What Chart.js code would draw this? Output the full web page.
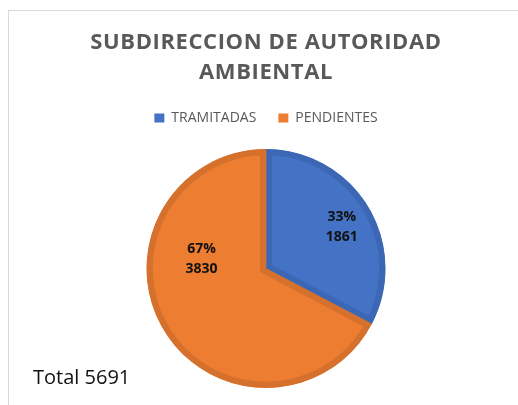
<!DOCTYPE html>
<html>
<head>
<meta charset="utf-8">
<script src="https://cdn.jsdelivr.net/npm/chart.js@4"></script>
<style>
  html, body { margin: 0; padding: 0; background: #fff; overflow: hidden; }
  #marco { position: absolute; left: 8px; top: 10px; width: 520px; height: 410px;
           border: 1px solid #d9d9d9; box-sizing: border-box; }
  #lienzo { position: absolute; left: 9px; top: 11px; width: 510px; height: 394px; }
  #total { position: absolute; left: 33px; top: 363px; font: 20px "Open Sans", sans-serif; color: #111; }
</style>
</head>
<body>
<div id="marco"></div>
<div id="lienzo"><canvas id="g-pie"></canvas></div>
<div id="total"></div>
<script>
// Datos del gráfico
const titulo = ["SUBDIRECCION DE AUTORIDAD", "AMBIENTAL"];
const categorias = ["TRAMITADAS", "PENDIENTES"];
const valores = [1861, 3830];
const colores = ["#4472C4", "#ED7D31"];
const bordes = ["#3C67B5", "#D5712D"];
// posición de etiquetas: fracción del ángulo del sector, fracción del radio
const posEtiqueta = [[0.5, 0.74], [0.676, 0.55]];

const total = valores.reduce((a, b) => a + b, 0);
document.getElementById("total").textContent = "Total " + total;

// Título con espaciado de letras (dibujado a mano)
const tituloPlugin = {
  id: "tituloPlugin",
  afterLayout(chart) {
    // sube la leyenda sin mover el área del gráfico
    chart.legend.top -= 14;
    chart.legend.bottom -= 14;
  },
  afterDraw(chart) {
    const ctx = chart.ctx;
    ctx.save();
    ctx.letterSpacing = "0.6px";
    ctx.font = "bold 22px 'Open Sans', sans-serif";
    ctx.fillStyle = "#595959";
    ctx.textAlign = "center";
    ctx.textBaseline = "middle";
    const cx = chart.width / 2;
    titulo.forEach((t, i) => ctx.fillText(t, cx + 2, 32 + i * 29.5));
    ctx.restore();
  }
};

// Etiquetas de datos (porcentaje + valor)
const etiquetas = {
  id: "etiquetas",
  afterDatasetsDraw(chart) {
    const ctx = chart.ctx;
    const meta = chart.getDatasetMeta(0);
    ctx.save();
    ctx.font = "bold 14px 'Open Sans', sans-serif";
    ctx.fillStyle = "#111";
    ctx.textAlign = "center";
    ctx.textBaseline = "middle";
    meta.data.forEach((arc, i) => {
      const p = arc.getProps(["x", "y", "startAngle", "endAngle", "outerRadius"]);
      const ang = p.startAngle + (p.endAngle - p.startAngle) * posEtiqueta[i][0];
      const r = p.outerRadius * posEtiqueta[i][1];
      const x = p.x + Math.cos(ang) * r;
      const y = p.y + Math.sin(ang) * r;
      const pct = Math.round(valores[i] / total * 100) + "%";
      ctx.fillText(pct, x, y - 6);
      ctx.fillText(String(valores[i]), x, y + 14);
    });
    ctx.restore();
  }
};

new Chart(document.getElementById("g-pie"), {
  type: "pie",
  data: {
    labels: categorias,
    datasets: [{
      data: valores,
      backgroundColor: colores,
      borderColor: bordes,
      borderWidth: 6,
      borderAlign: "inner",
      borderJoinStyle: "miter"
    }]
  },
  options: {
    responsive: true,
    maintainAspectRatio: false,
    animation: false,
    layout: { padding: { top: 92, bottom: 17, left: 4, right: 0 } },
    plugins: {
      title: { display: false },
      legend: {
        position: "top",
        labels: {
          color: "#595959",
          font: { family: "'Open Sans', sans-serif", size: 14 },
          boxWidth: 10, boxHeight: 9, padding: 22,
          generateLabels(chart) {
            const items = Chart.controllers.pie.overrides.plugins.legend.labels.generateLabels(chart);
            items.forEach(it => { it.lineWidth = 0; });
            return items;
          }
        }
      },
      tooltip: { enabled: false }
    }
  },
  plugins: [tituloPlugin, etiquetas]
});
</script>
</body>
</html>
